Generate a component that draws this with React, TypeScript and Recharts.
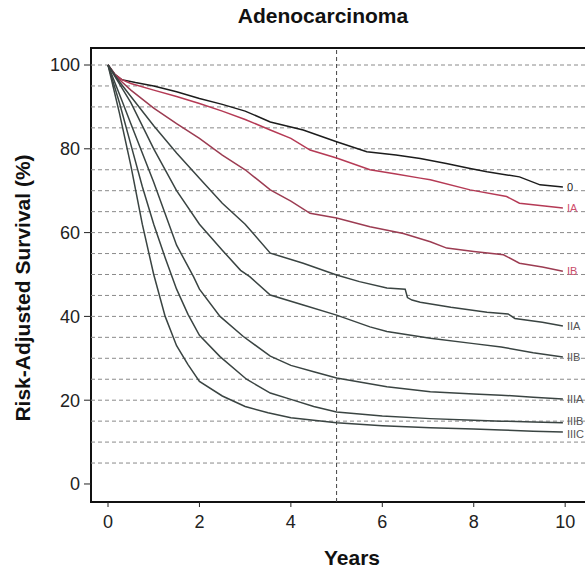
import { LineChart, Line, XAxis, YAxis, ReferenceLine, ReferenceArea, Label } from 'recharts';

// survival curves (years, % survival)
const years0 = [0, 0.15, 0.3, 0.6, 1, 1.5, 2, 2.5, 3, 3.55, 4.27, 5, 5.66, 6.3, 6.83, 7.4, 7.92, 8.29, 9.0, 9.45, 9.95];
const surv0 = [100, 97.8, 96.5, 95.8, 95, 93.6, 92, 90.6, 89, 86.4, 84.5, 81.7, 79.3, 78.5, 77.7, 76.5, 75.3, 74.5, 73.3, 71.4, 70.9];

const yearsIA = [0, 0.15, 0.3, 0.5, 1, 1.5, 2, 2.5, 3, 3.55, 4.0, 4.42, 5, 5.73, 6.3, 6.83, 7.05, 7.92, 8.72, 9.0, 9.5, 9.95];
const survIA = [100, 97.8, 96.5, 95.6, 94, 92.5, 90.8, 89, 87, 84.5, 82.5, 79.7, 77.8, 75, 74, 73, 72.6, 70.2, 68.6, 67, 66.4, 65.9];

const yearsIB = [0, 0.15, 0.3, 0.5, 1, 1.5, 2, 2.5, 3, 3.55, 4, 4.42, 5, 5.73, 6.46, 7.05, 7.41, 8.0, 8.65, 9.0, 9.5, 9.95];
const survIB = [100, 97.5, 96, 94, 89.7, 86, 82.5, 78.5, 75, 70.2, 67.5, 64.6, 63.5, 61.4, 59.8, 57.8, 56.3, 55.5, 54.7, 52.7, 51.8, 50.8];

const yearsIIA = [0, 0.25, 0.5, 1, 1.5, 2, 2.5, 3, 3.55, 4.27, 5, 5.5, 6.1, 6.5, 6.55, 6.65, 6.83, 7.5, 8.29, 8.75, 8.9, 9.5, 9.95];
const survIIA = [100, 96, 92.5, 85.5, 79, 73, 67, 62, 55.1, 52.7, 49.9, 48.3, 46.8, 46.5, 44.5, 43.9, 43.4, 42.2, 41, 40.6, 39.5, 38.6, 37.7];

const yearsIIB = [0, 0.25, 0.5, 1, 1.5, 2, 2.5, 2.9, 3.1, 3.55, 4.27, 5, 5.73, 6.1, 7.05, 8, 8.6, 9.3, 9.95];
const survIIB = [100, 95.5, 91, 80, 70, 62, 55.8, 51, 49.5, 45.1, 42.7, 40.3, 37.5, 36.4, 34.8, 33.5, 32.7, 31.3, 30.3];

const yearsIIIA = [0, 0.25, 0.5, 1, 1.5, 1.87, 2, 2.45, 2.96, 3.55, 4, 4.5, 5, 6.1, 7.05, 8, 8.6, 9.3, 9.95];
const survIIIA = [100, 93, 86, 72, 57, 49.5, 46.5, 40, 35.2, 30.5, 28.3, 26.8, 25.3, 23.2, 22, 21.5, 21.2, 20.7, 20.3];

const yearsIIIB = [0, 0.25, 0.5, 0.75, 1, 1.25, 1.5, 1.75, 2, 2.45, 3.03, 3.55, 4, 4.5, 5, 6, 7.05, 8, 8.6, 9.3, 9.95];
const survIIIB = [100, 91, 81, 71, 62, 54, 46.5, 40.5, 35.5, 30.4, 25, 21.7, 20.2, 18.5, 17.2, 16.2, 15.6, 15.2, 15, 14.8, 14.6];

const yearsIIIC = [0, 0.25, 0.5, 0.75, 1, 1.25, 1.5, 1.75, 2, 2.5, 3, 3.5, 4, 5, 6, 7.05, 8, 8.6, 9.3, 9.95];
const survIIIC = [100, 88.5, 76, 62, 50, 40, 33, 28.5, 24.5, 21, 18.5, 17, 15.8, 14.6, 13.9, 13.4, 13.1, 12.9, 12.6, 12.4];

const xTicks = [0, 2, 4, 6, 8, 10];
const yTicks = [0, 20, 40, 60, 80, 100];
const gridValues = [5, 10, 15, 20, 25, 30, 35, 40, 45, 50, 55, 60, 65, 70, 75, 80, 85, 90, 95, 100];

const X_MIN = -0.372;
const X_MAX = 11.09;
const Y_MIN = -4.3;
const Y_MAX = 104.06;

const FONT = '"Liberation Sans", Arial, Helvetica, sans-serif';

const zip = (t: number[], s: number[]) => t.map((v, i) => ({ t: v, s: s[i] }));

const series = [
  { name: '0', data: zip(years0, surv0), stroke: '#1c1c1c', text: '#222', dy: 0 },
  { name: 'IA', data: zip(yearsIA, survIA), stroke: '#b53a55', text: '#d0506e', dy: 0 },
  { name: 'IB', data: zip(yearsIB, survIB), stroke: '#9c3c52', text: '#c84c6a', dy: 0 },
  { name: 'IIA', data: zip(yearsIIA, survIIA), stroke: '#3a4442', text: '#555', dy: 0 },
  { name: 'IIB', data: zip(yearsIIB, survIIB), stroke: '#3a4442', text: '#555', dy: 0 },
  { name: 'IIIA', data: zip(yearsIIIA, survIIIA), stroke: '#3a4442', text: '#555', dy: 0 },
  { name: 'IIIB', data: zip(yearsIIIB, survIIIB), stroke: '#3a4442', text: '#555', dy: -1.5 },
  { name: 'IIIC', data: zip(yearsIIIC, survIIIC), stroke: '#3a4442', text: '#555', dy: 1.5 },
];

function endLabel(name: string, color: string, last: number, dy: number) {
  return (p: any) => {
    if (p.index !== last) return <g key={`d-${name}-${p.index}`} />;
    return (
      <text key={`d-${name}-${p.index}`} x={p.cx + 4} y={p.cy + 4 + dy} fontSize={11} fill={color} fontFamily={FONT}>
        {name}
      </text>
    );
  };
}

export default function App() {
  return (
    <div style={{ position: 'absolute', left: 0, top: 0, width: 585, height: 568, overflow: 'hidden', background: '#fff' }}>
      <div
        style={{
          position: 'absolute', left: 0, top: 5, width: 646, textAlign: 'center', lineHeight: '21px',
          fontFamily: FONT, fontWeight: 'bold', fontSize: 21, color: '#111',
        }}
      >
        Adenocarcinoma
      </div>
      <LineChart width={615} height={568} margin={{ top: 48, right: 0, bottom: 36, left: 0 }}>
        <XAxis
          dataKey="t"
          type="number"
          domain={[X_MIN, X_MAX]}
          allowDataOverflow
          ticks={xTicks}
          tickSize={5}
          tickMargin={8}
          height={30}
          axisLine={false}
          tickLine={{ stroke: '#222' }}
          tick={{ fontSize: 18, fill: '#222', fontFamily: FONT }}
        >
          <Label
            content={() => (
              <text x={352} y={565} textAnchor="middle" fontSize={21} fontWeight="bold" fill="#111" fontFamily={FONT}>
                Years
              </text>
            )}
          />
        </XAxis>
        <YAxis
          type="number"
          domain={[Y_MIN, Y_MAX]}
          allowDataOverflow
          ticks={yTicks}
          width={91}
          tickSize={7}
          tickMargin={4}
          axisLine={false}
          tickLine={{ stroke: '#222' }}
          tick={{ fontSize: 18, fill: '#222', fontFamily: FONT }}
        >
          <Label
            content={() => (
              <text
                x={30}
                y={288}
                transform="rotate(-90 30 288)"
                textAnchor="middle"
                fontSize={21}
                fontWeight="bold"
                fill="#111"
                fontFamily={FONT}
              >
                Risk-Adjusted Survival (%)
              </text>
            )}
          />
        </YAxis>
        {gridValues.map((v) => (
          <ReferenceLine key={`g${v}`} y={v} stroke="#8a8a8a" strokeDasharray="4 3" strokeWidth={1} />
        ))}
        <ReferenceLine x={5} stroke="#444" strokeDasharray="4 3" strokeWidth={1} />
        <ReferenceArea x1={X_MIN} x2={X_MAX} y1={Y_MIN} y2={Y_MAX} fill="none" stroke="#111" strokeWidth={2} />
        {series.map((s) => (
          <Line
            key={s.name}
            data={s.data}
            dataKey="s"
            type="linear"
            stroke={s.stroke}
            strokeWidth={1.5}
            dot={endLabel(s.name, s.text, s.data.length - 1, s.dy)}
            activeDot={false}
            isAnimationActive={false}
          />
        ))}
      </LineChart>
    </div>
  );
}
